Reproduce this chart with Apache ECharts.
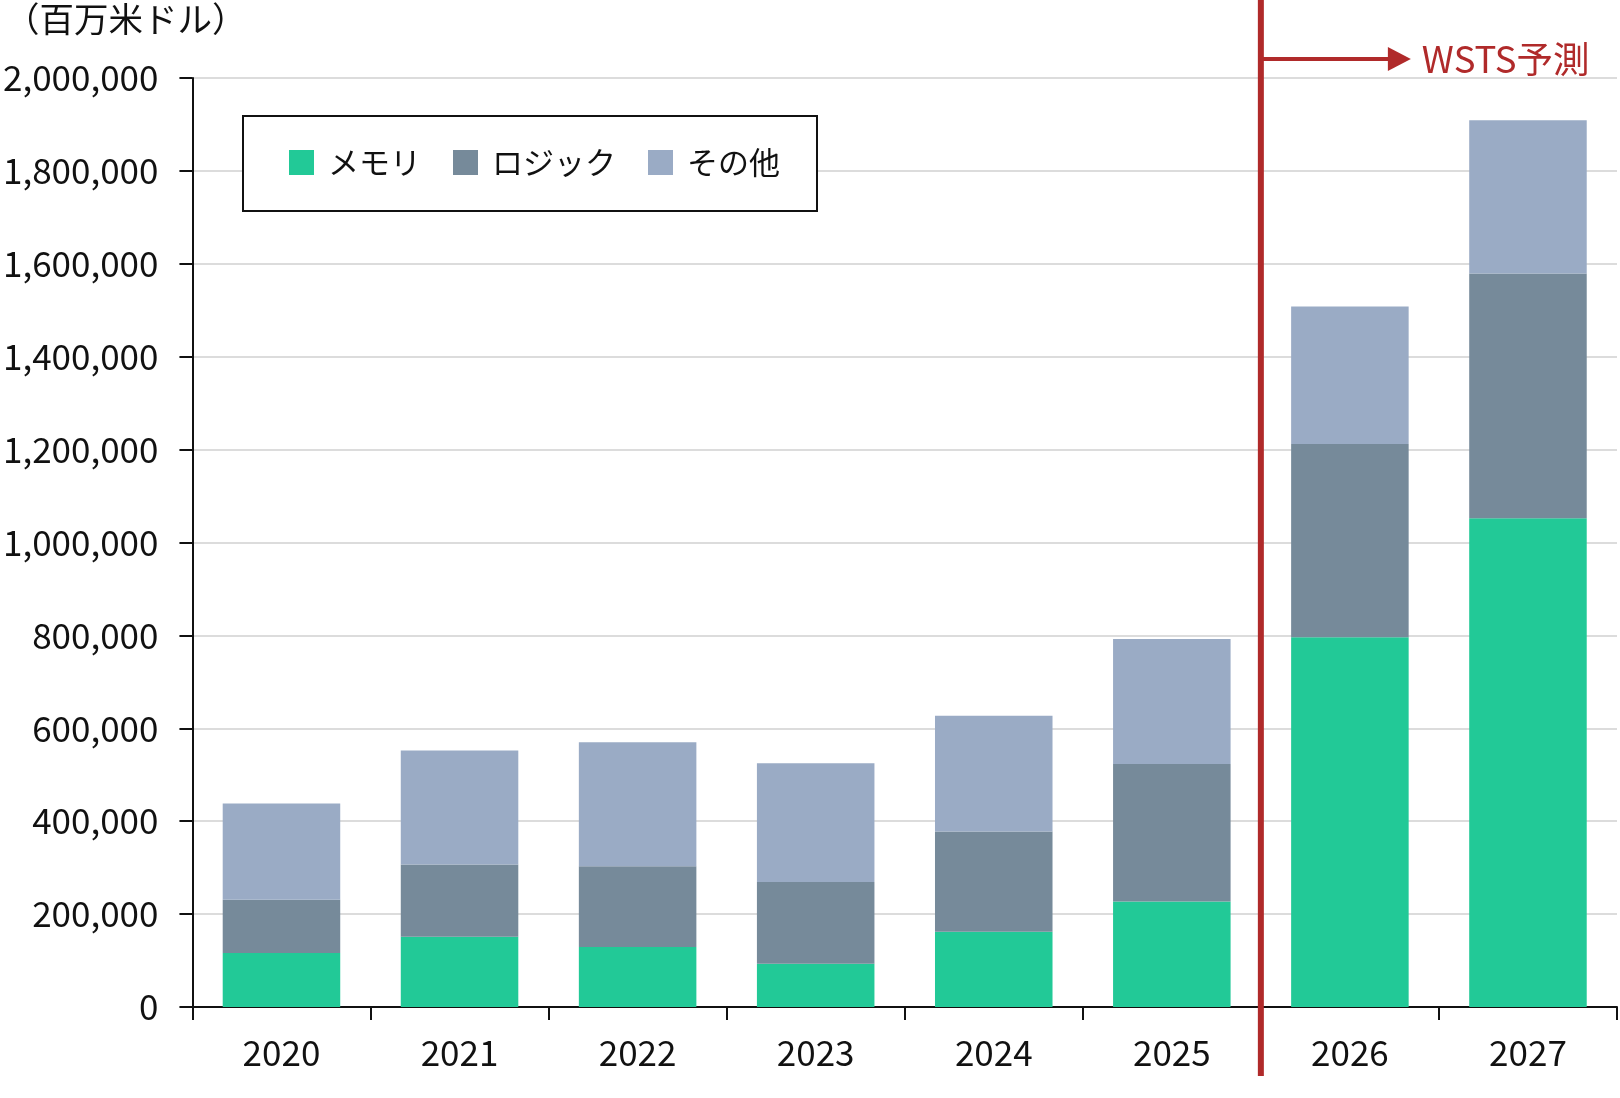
<!DOCTYPE html>
<html>
<head>
<meta charset="utf-8">
<script src="https://cdn.jsdelivr.net/npm/echarts@6/dist/echarts.min.js"></script>
<style>
html,body{margin:0;padding:0;background:#fff;}
#chart{width:1620px;height:1098px;}
</style>
</head>
<body>
<div id="chart"></div>
<script>
const categories = ['2020','2021','2022','2023','2024','2025','2026','2027'];
const memory = [116000, 151000, 129000, 93000, 162000, 227000, 796000, 1052000];
const logic  = [115000, 156000, 174000, 176000, 216000, 296000, 416000, 527000];
const other  = [207000, 245000, 267000, 256000, 249000, 269000, 296000, 330000];
const seriesNames = ['メモリ','ロジック','その他'];
const yTicks = [0, 200000, 400000, 600000, 800000, 1000000, 1200000, 1400000, 1600000, 1800000, 2000000];
const forecastStart = '2026';
const forecastLabel = 'WSTS予測';
const unitLabel = '（百万米ドル）';

const FONT = '"Noto Sans CJK JP", "Noto Sans", sans-serif';
const RED = '#b02a2a';
const colors = ['#22c997', '#768a9a', '#9aabc5'];

const chart = echarts.init(document.getElementById('chart'));
const option = {
  animation: false,
  backgroundColor: '#fff',
  textStyle: { fontFamily: FONT },
  title: {
    text: unitLabel,
    left: 0, top: -3,
    textStyle: { fontFamily: FONT, fontSize: 34.5, fontWeight: 'normal', color: '#111' }
  },
  legend: {
    data: seriesNames,
    left: 243, top: 116,
    orient: 'horizontal',
    icon: 'rect',
    itemWidth: 25, itemHeight: 25,
    itemGap: 32,
    padding: [31, 37, 33, 46],
    borderColor: '#111', borderWidth: 2,
    backgroundColor: '#fff',
    textStyle: { fontFamily: FONT, fontSize: 31, color: '#111', padding: [0, 0, 0, 9] }
  },
  grid: { left: 191, right: 3, top: 78, bottom: 91, containLabel: false },
  xAxis: {
    type: 'category',
    data: categories,
    axisLine: { show: true, lineStyle: { color: '#111', width: 2 } },
    axisTick: { show: true, alignWithLabel: false, length: 13, lineStyle: { color: '#111', width: 2 } },
    axisLabel: { fontFamily: FONT, fontSize: 35, color: '#111', margin: 28 },
    splitLine: { show: false }
  },
  yAxis: {
    type: 'value',
    min: yTicks[0], max: yTicks[yTicks.length - 1], interval: yTicks[1] - yTicks[0],
    axisLine: { show: true, lineStyle: { color: '#111', width: 2 } },
    axisTick: { show: true, length: 13, lineStyle: { color: '#111', width: 2 } },
    axisLabel: {
      fontFamily: FONT, fontSize: 35, color: '#111', margin: 34,
      formatter: v => v.toLocaleString('en-US')
    },
    splitLine: { show: true, lineStyle: { color: '#dcdcdc', width: 2 } }
  },
  series: [
    { name: seriesNames[0], type: 'bar', stack: 'total', data: memory, barCategoryGap: '34%', itemStyle: { color: colors[0] }, z: 3 },
    { name: seriesNames[1], type: 'bar', stack: 'total', data: logic, itemStyle: { color: colors[1] }, z: 3 },
    { name: seriesNames[2], type: 'bar', stack: 'total', data: other, itemStyle: { color: colors[2] }, z: 3 }
  ]
};
chart.setOption(option);

function drawForecast() {
  const idx = categories.indexOf(forecastStart);
  const xa = chart.convertToPixel({ xAxisIndex: 0 }, categories[idx - 1]);
  const xb = chart.convertToPixel({ xAxisIndex: 0 }, categories[idx]);
  const x = (xa + xb) / 2;
  const yArrow = 59;
  const tipX = x + 150;
  chart.setOption({
    graphic: [
      { type: 'line', z: 100, shape: { x1: x, y1: 0, x2: x, y2: 1076 }, style: { stroke: RED, lineWidth: 6 } },
      { type: 'line', z: 100, shape: { x1: x, y1: yArrow, x2: tipX - 20, y2: yArrow }, style: { stroke: RED, lineWidth: 4 } },
      { type: 'polygon', z: 100, shape: { points: [[tipX - 23, yArrow - 12], [tipX, yArrow], [tipX - 23, yArrow + 12]] }, style: { fill: RED } },
      { type: 'text', z: 100, x: tipX + 11, y: yArrow, style: { text: forecastLabel, fill: RED, font: '36.5px ' + FONT, textVerticalAlign: 'middle', textAlign: 'left' } }
    ]
  });
}
drawForecast();
</script>
</body>
</html>
